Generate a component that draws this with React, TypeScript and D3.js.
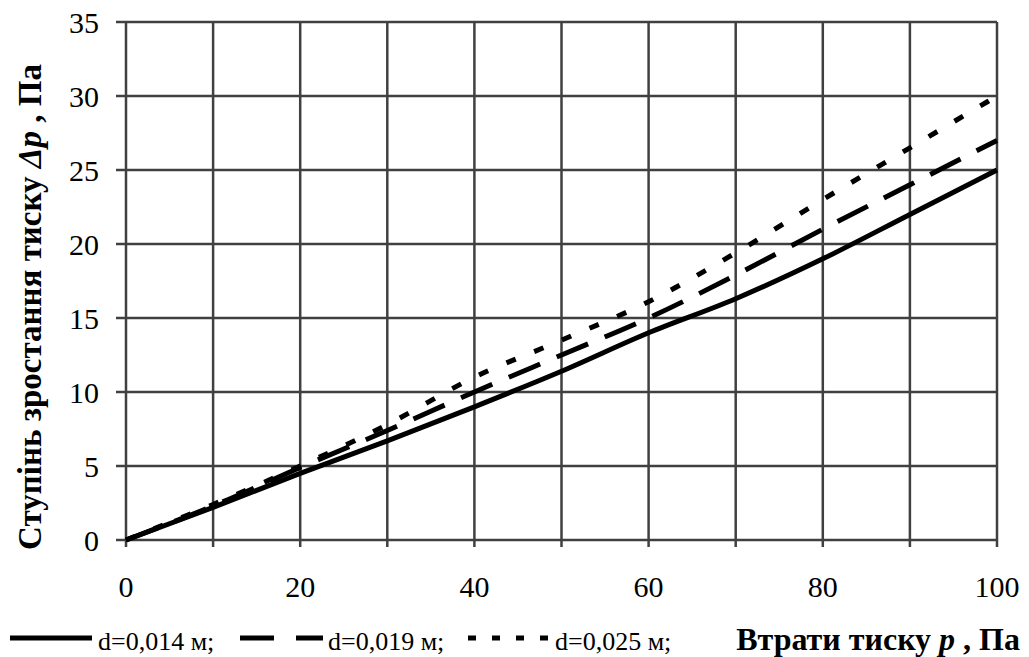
import React from "react";
import * as d3 from "d3";

const xValues = [0, 10, 20, 30, 40, 50, 60, 70, 80, 90, 100];
const series014 = [0, 2.2, 4.5, 6.7, 9, 11.4, 14, 16.3, 19, 22, 25];
const series019 = [0, 2.3, 4.9, 7.4, 10, 12.5, 15, 17.9, 21, 24, 27];
const series025 = [0, 2.4, 5, 7.8, 11, 13.5, 16.1, 19.4, 23, 26.5, 30];
const xTicks = [0, 20, 40, 60, 80, 100];
const yTicks = [0, 5, 10, 15, 20, 25, 30, 35];
const legendLabels = ["d=0,014 м;", "d=0,019 м;", "d=0,025 м;"];

const W = 1029, H = 657;
const left = 126, right = 997, top = 22, bottom = 540;

export default function App() {
  const x = d3.scaleLinear().domain([0, 100]).range([left, right]);
  const y = d3.scaleLinear().domain([0, 35]).range([bottom, top]);
  const line = d3.line<number>().x((_, i) => x(xValues[i])).y((d) => y(d)).curve(d3.curveMonotoneX);
  const gridX = d3.range(0, 101, 10);
  const font = '"Liberation Serif", "Times New Roman", Times, serif';
  const grid = "#404040";
  const dashes = ["", "34,18", "10,20"];
  const data = [series014, series019, series025];
  const legend = [
    { x1: 10, x2: 92, tx: 98, dash: "" },
    { x1: 240, x2: 323, tx: 328, dash: "34,22" },
    { x1: 468, x2: 548, tx: 555, dash: "8,16" },
  ];
  return (
    <svg width={W} height={H} style={{ position: "absolute", left: 0, top: 0, fontFamily: font }}>
      <rect width={W} height={H} fill="#fff" />
      {gridX.map((v) => (
        <line key={"gx" + v} x1={x(v)} x2={x(v)} y1={top} y2={bottom + 7} stroke={grid} strokeWidth={2.5} />
      ))}
      {yTicks.map((v) => (
        <line key={"gy" + v} x1={left - 10} x2={right} y1={y(v)} y2={y(v)} stroke={grid} strokeWidth={2.5} />
      ))}
      {data.map((s, i) => (
        <path key={"s" + i} d={line(s) || ""} fill="none" stroke="#000" strokeWidth={5} strokeDasharray={dashes[i]} />
      ))}
      {yTicks.map((v) => (
        <text key={"ty" + v} x={99} y={y(v)} dy="0.35em" textAnchor="end" fontSize={30}>{v}</text>
      ))}
      {xTicks.map((v) => (
        <text key={"tx" + v} x={x(v)} y={597} textAnchor="middle" fontSize={30}>{v}</text>
      ))}
      <text transform={`translate(41, 307) rotate(-90)`} textAnchor="middle" fontSize={33} fontWeight="bold">
        Ступінь зростання тиску <tspan fontStyle="italic">Δp</tspan> , Па
      </text>
      {legend.map((l, i) => (
        <g key={"lg" + i}>
          <line x1={l.x1} x2={l.x2} y1={638} y2={638} stroke="#000" strokeWidth={5} strokeDasharray={l.dash} />
          <text x={l.tx} y={650} fontSize={26}>{legendLabels[i]}</text>
        </g>
      ))}
      <text x={1020} y={650} textAnchor="end" fontSize={32} fontWeight="bold">
        Втрати тиску <tspan fontStyle="italic">p</tspan> , Па
      </text>
    </svg>
  );
}
